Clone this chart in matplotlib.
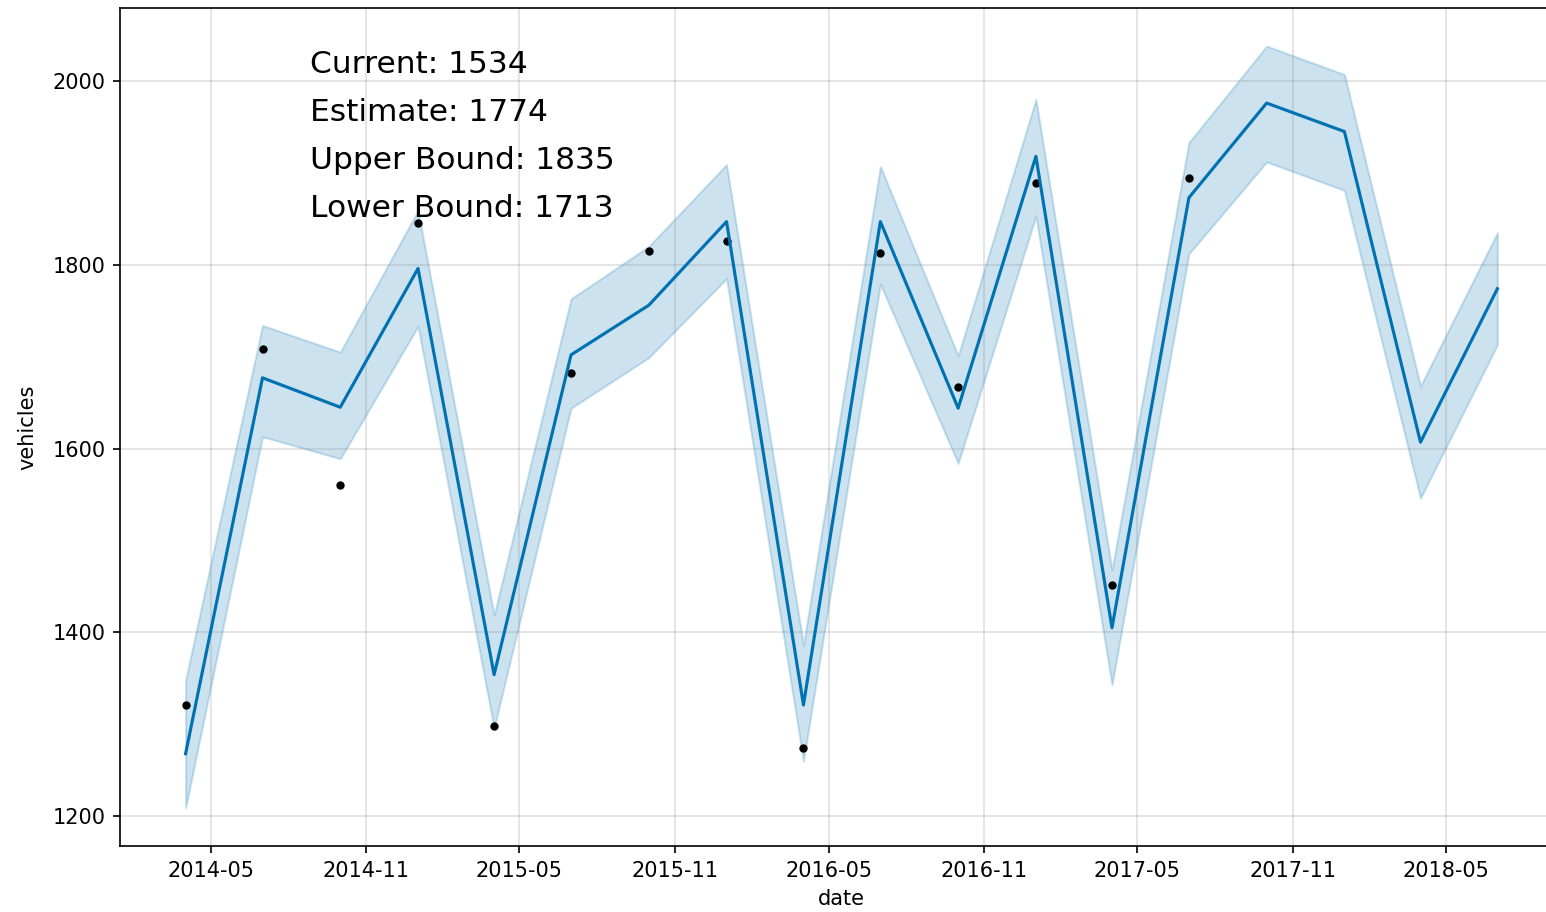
import matplotlib
matplotlib.use("Agg")
import matplotlib.pyplot as plt
import matplotlib.dates as mdates
import pandas as pd

# ---- data ----
dates = pd.date_range("2014-04-01", "2018-07-01", freq="QS-JAN")
actual = [1321, 1708, 1560, 1846, 1298, 1682, 1815, 1826, 1274, 1813, 1667, 1889, 1452, 1894]
yhat = [1268, 1677, 1645, 1796, 1354, 1702, 1756, 1847, 1321, 1847, 1644, 1918, 1405, 1873,
        1976, 1945, 1607, 1774]
yhat_upper = [1348, 1734, 1705, 1859, 1419, 1763, 1820, 1909, 1386, 1907, 1701, 1980, 1468, 1933,
              2038, 2007, 1668, 1835]
yhat_lower = [1209, 1613, 1589, 1733, 1296, 1644, 1699, 1785, 1260, 1779, 1584, 1853, 1343, 1812,
              1912, 1881, 1546, 1713]
info_lines = ["Current: 1534", "Estimate: 1774", "Upper Bound: 1835", "Lower Bound: 1713"]

W, H, DPI = 1546, 912, 150
fig = plt.figure(figsize=(W / DPI, H / DPI), dpi=DPI)
left, right, top, bottom = 120, 1563, 8, 846
ax = fig.add_axes([left / W, (H - bottom) / H, (right - left) / W, (bottom - top) / H])

ax.plot(dates[:len(actual)], actual, 'k.')
ax.plot(dates, yhat, ls='-', c='#0072B2')
ax.fill_between(dates, yhat_lower, yhat_upper, color='#0072B2', alpha=0.2)

ax.xaxis.set_major_locator(mdates.MonthLocator(bymonth=[5, 11]))
ax.xaxis.set_major_formatter(mdates.DateFormatter('%Y-%m'))
ax.grid(True, which='major', c='gray', ls='-', lw=1, alpha=0.2)
ax.set_xlabel('date')
ax.set_ylabel('vehicles', labelpad=7)

ys = [0.922, 0.865, 0.808, 0.751]
for txt, yy in zip(info_lines, ys):
    ax.text(0.132, yy, txt, transform=ax.transAxes, fontsize=15, va='baseline', ha='left')

fig.savefig("out.png", dpi=DPI)
